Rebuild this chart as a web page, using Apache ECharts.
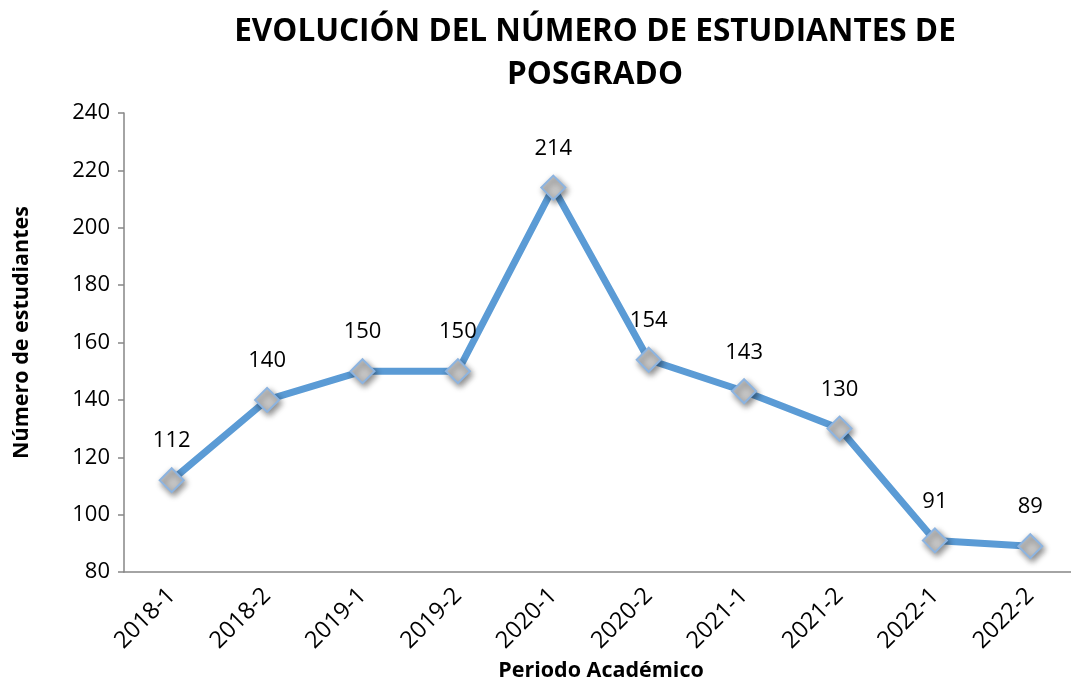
<!DOCTYPE html>
<html lang="es">
<head>
<meta charset="utf-8">
<title>Evolución del número de estudiantes de posgrado</title>
<script src="https://cdn.jsdelivr.net/npm/echarts@6/dist/echarts.min.js"></script>
<style>
  html, body { margin: 0; padding: 0; background: #fff; }
  #container { width: 1071px; height: 679px; }
</style>
</head>
<body>
<div id="container"></div>
<script>
// datos
var periodos = ['2018-1', '2018-2', '2019-1', '2019-2', '2020-1', '2020-2', '2021-1', '2021-2', '2022-1', '2022-2'];
var estudiantes = [112, 140, 150, 150, 214, 154, 143, 130, 91, 89];
var yTicks = [80, 100, 120, 140, 160, 180, 200, 220, 240];

var fuente = 'Open Sans';
var myChart = echarts.init(document.getElementById('container'));

var option = {
  animation: false,
  title: {
    text: 'EVOLUCIÓN DEL NÚMERO DE ESTUDIANTES DE\nPOSGRADO',
    left: 590,
    textAlign: 'center',
    top: 6,
    textStyle: { fontFamily: fuente, fontWeight: 'bold', fontSize: 31.5, lineHeight: 43, color: '#000' }
  },
  grid: { left: 124, right: -7, top: 113, bottom: 107, outerBoundsMode: 'none', containLabel: false },
  xAxis: {
    type: 'category',
    data: periodos,
    boundaryGap: true,
    name: 'Periodo Académico',
    nameLocation: 'middle',
    nameGap: 85,
    nameTextStyle: { fontFamily: fuente, fontWeight: 'bold', fontSize: 21.5, color: '#000' },
    axisLine: { lineStyle: { color: '#868686', width: 1.5 } },
    axisTick: { length: 6, lineStyle: { color: '#868686', width: 1.5 } },
    axisLabel: { rotate: 45, fontFamily: fuente, fontSize: 23.5, color: '#000', margin: 20, interval: 0, hideOverlap: false }
  },
  yAxis: {
    type: 'value',
    min: yTicks[0],
    max: yTicks[yTicks.length - 1],
    interval: 20,
    name: 'Número de estudiantes',
    nameLocation: 'middle',
    nameGap: 91,
    nameTextStyle: { fontFamily: fuente, fontWeight: 'bold', fontSize: 21.5, color: '#000', padding: [0, 0, 0, 20] },
    axisLine: { show: true, lineStyle: { color: '#868686', width: 1.5 } },
    axisTick: { show: true, length: 6, lineStyle: { color: '#868686', width: 1.5 } },
    splitLine: { show: false },
    axisLabel: { fontFamily: fuente, fontSize: 22, color: '#000', margin: 14 }
  },
  series: [{
    type: 'line',
    data: estudiantes,
    symbol: 'diamond',
    symbolSize: 24,
    lineStyle: { color: '#5b9bd5', width: 7 },
    itemStyle: {
      color: '#c6c6c6',
      borderColor: '#8db4e0',
      borderWidth: 2,
      shadowColor: 'rgba(0,0,0,0.45)',
      shadowBlur: 6,
      shadowOffsetX: 2,
      shadowOffsetY: 3
    },
    label: {
      show: true,
      position: 'top',
      distance: 15,
      fontFamily: fuente,
      fontSize: 22,
      color: '#000'
    }
  }]
};
myChart.setOption(option);
</script>
</body>
</html>
